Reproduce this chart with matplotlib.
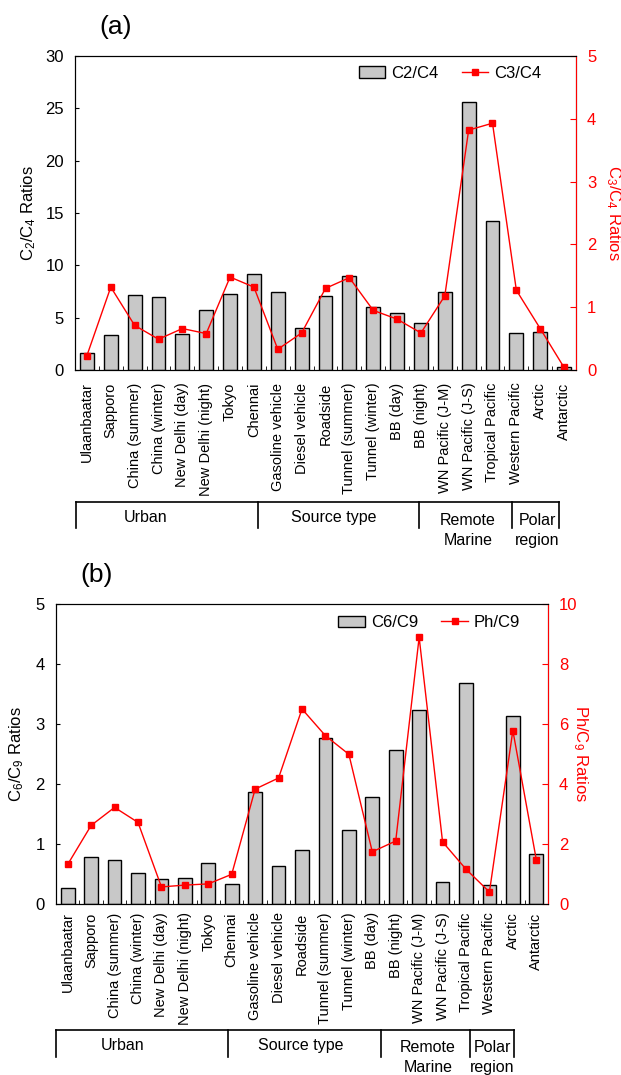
import matplotlib
matplotlib.use("Agg")
import matplotlib.pyplot as plt
import numpy as np
from matplotlib.lines import Line2D

plt.rcParams["font.family"] = ["Liberation Sans", "DejaVu Sans"]
plt.rcParams["mathtext.fontset"] = "custom"
plt.rcParams["mathtext.rm"] = "Liberation Sans"
plt.rcParams["font.size"] = 10.5

sites = [
    "Ulaanbaatar", "Sapporo", "China (summer)", "China (winter)",
    "New Delhi (day)", "New Delhi (night)", "Tokyo", "Chennai",
    "Gasoline vehicle", "Diesel vehicle", "Roadside", "Tunnel (summer)",
    "Tunnel (winter)", "BB (day)", "BB (night)", "WN Pacific (J-M)",
    "WN Pacific (J-S)", "Tropical Pacific", "Western Pacific", "Arctic",
    "Antarctic",
]

# panel (a)
c2_c4 = [1.6, 3.3, 7.2, 6.95, 3.45, 5.7, 7.25, 9.2, 7.45, 4.05, 7.1,
         9.0, 6.0, 5.4, 4.5, 7.45, 25.65, 14.25, 3.55, 3.65, 0.3]
c3_c4 = [0.23, 1.32, 0.71, 0.49, 0.66, 0.58, 1.48, 1.32, 0.33, 0.59, 1.30,
         1.47, 0.95, 0.81, 0.59, 1.18, 3.82, 3.93, 1.27, 0.66, 0.04]

# panel (b)
c6_c9 = [0.27, 0.79, 0.74, 0.52, 0.41, 0.44, 0.69, 0.34, 1.87, 0.64, 0.90,
         2.76, 1.23, 1.79, 2.56, 3.23, 0.36, 3.68, 0.31, 3.14, 0.84]
ph_c9 = [1.32, 2.62, 3.22, 2.72, 0.57, 0.63, 0.67, 0.99, 3.83, 4.2, 6.5,
         5.61, 4.99, 1.74, 2.1, 8.89, 2.07, 1.16, 0.4, 5.78, 1.48]

groups = ["Urban", "Source type", "Remote\nMarine", "Polar\nregion"]

BAR = "#c8c8c8"
RED = "#ff0000"

fig = plt.figure(figsize=(6.21, 10.75), dpi=100)
W, H = 621.0, 1075.0


def px_axes(l, t, r, b):
    return fig.add_axes([l / W, 1 - b / H, (r - l) / W, (b - t) / H])


def panel(box, bars, line, ymax, ymax2, ylab, ylab2, barname, linename,
          legpos, xpad, labx, labx2):
    ax = px_axes(*box)
    x = np.arange(len(sites))
    ax.bar(x, bars, width=0.58, color=BAR, edgecolor="black", linewidth=1.0,
           label=barname)
    ax.set_xlim(-0.5, len(sites) - 0.5)
    ax.set_ylim(0, ymax)
    ax.set_xticks(x)
    ax.set_xticklabels(sites, rotation=90)
    ax.set_xticks(np.arange(0.5, len(sites) - 0.5), minor=True)
    ax.tick_params(axis="x", which="major", length=0, pad=xpad)
    ax.tick_params(axis="x", which="minor", direction="in", length=3)
    ax.tick_params(axis="y", direction="in", length=3, pad=8, labelsize=12)
    ax.set_ylabel(ylab, fontsize=12, va="center")
    ax.yaxis.set_label_coords(labx, 0.5)

    ax2 = ax.twinx()
    ax2.plot(x, line, color=RED, marker="s", markersize=5, linewidth=1.0)
    ax2.set_ylim(0, ymax2)
    ax2.spines["right"].set_color(RED)
    ax2.tick_params(axis="y", colors=RED, direction="in", length=4, pad=8,
                    labelsize=12)
    ax2.set_ylabel(ylab2, color=RED, rotation=270, fontsize=12,
                   va="center")
    ax2.yaxis.set_label_coords(labx2, 0.5)

    handles = [
        plt.Rectangle((0, 0), 1, 1, facecolor=BAR, edgecolor="black"),
        Line2D([], [], color=RED, marker="s", markersize=5, linewidth=1.0),
    ]
    ax2.legend(handles, [barname, linename], loc="upper right",
               bbox_to_anchor=legpos, ncol=2, frameon=False,
               borderaxespad=0, handlelength=1.6, columnspacing=1.4,
               handletextpad=0.35, fontsize=12)
    return ax


def brackets(xs, ytop, ybot, texts):
    for xv in xs:
        fig.add_artist(Line2D([xv / W, xv / W], [1 - ytop / H, 1 - ybot / H],
                              color="black", linewidth=1.2))
    fig.add_artist(Line2D([xs[0] / W, xs[-1] / W],
                          [1 - ytop / H, 1 - ytop / H],
                          color="black", linewidth=1.2))
    for (tx, ty, s) in texts:
        fig.text(tx / W, 1 - ty / H, s, ha="center", va="top", fontsize=11.5,
                 linespacing=1.4)


panel((75, 56, 576, 370), c2_c4, c3_c4, 30, 5,
      r"$\mathregular{C_2/C_4}$ Ratios", r"$\mathregular{C_3/C_4}$ Ratios",
      "C2/C4", "C3/C4", (0.944, 0.99), 9, -0.092, 1.074)
panel((56, 604, 548, 904), c6_c9, ph_c9, 5, 10,
      r"$\mathregular{C_6/C_9}$ Ratios", r"$\mathregular{Ph/C_9}$ Ratios",
      "C6/C9", "Ph/C9", (0.957, 0.985), 6, -0.079, 1.066)

fig.text(116 / W, 1 - 27 / H, "(a)", ha="center", va="center", fontsize=19)
fig.text(97 / W, 1 - 575 / H, "(b)", ha="center", va="center", fontsize=19)

brackets([76, 258, 419, 512, 559], 502, 528,
         [(146, 510, groups[0]), (334, 510, groups[1]),
          (468, 513, groups[2]), (537, 513, groups[3])])
brackets([56, 228, 381, 470, 514], 1030, 1057,
         [(123, 1038, groups[0]), (301, 1038, groups[1]),
          (428, 1040, groups[2]), (492, 1040, groups[3])])

fig.savefig("out.png", dpi=100)
